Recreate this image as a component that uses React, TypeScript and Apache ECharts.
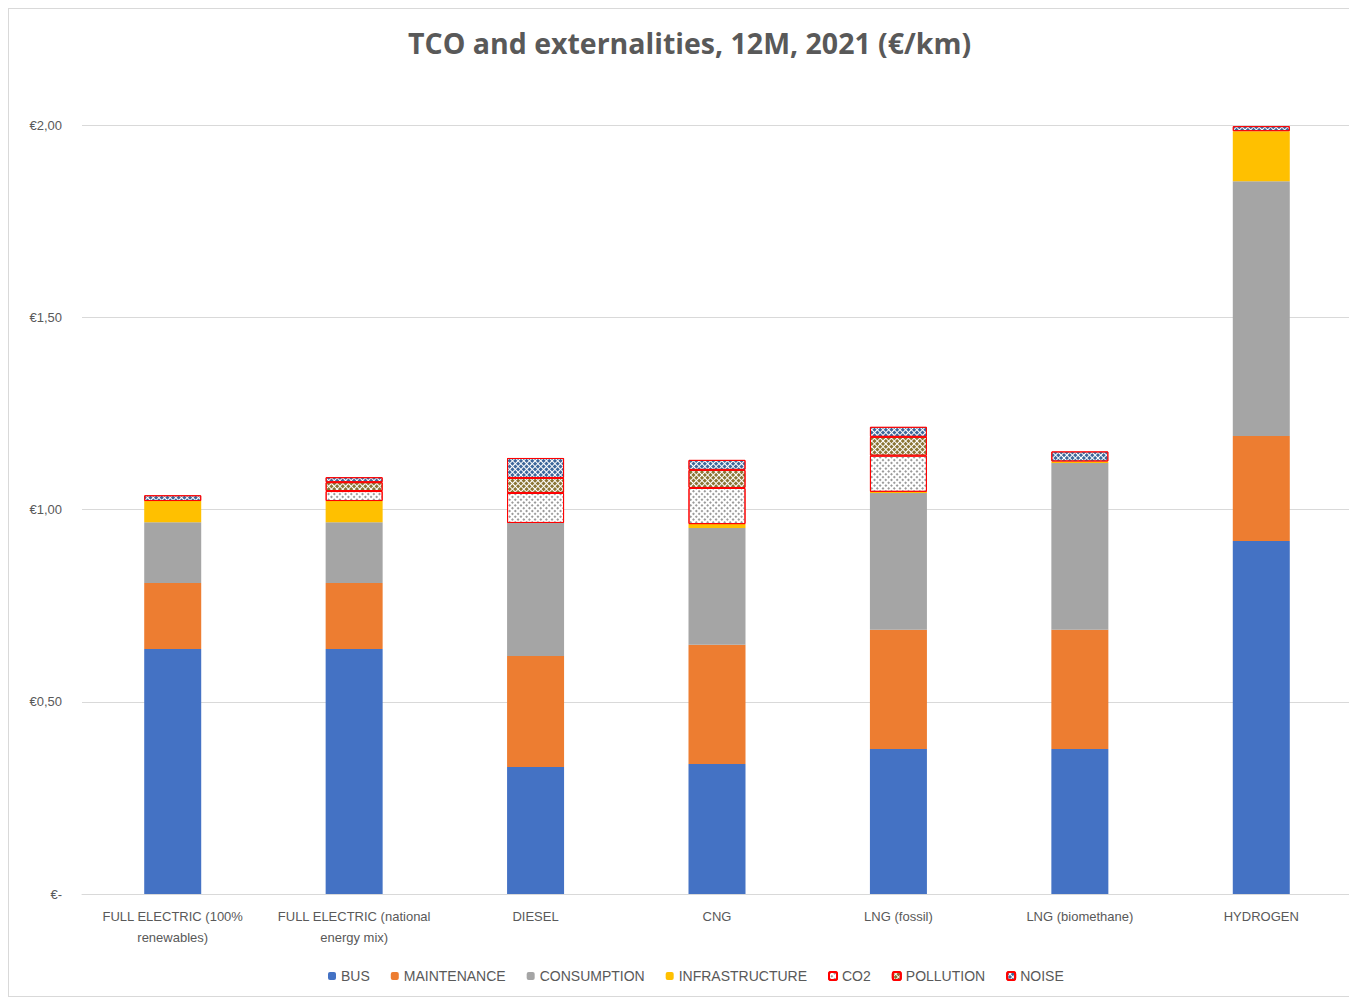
import React, { useEffect, useRef } from "react";
import * as echarts from "echarts";

const categories = [
  "FULL ELECTRIC (100%\nrenewables)",
  "FULL ELECTRIC (national\nenergy mix)",
  "DIESEL",
  "CNG",
  "LNG (fossil)",
  "LNG (biomethane)",
  "HYDROGEN",
];
const bus = [0.637, 0.637, 0.33, 0.338, 0.377, 0.377, 0.918];
const maintenance = [0.172, 0.172, 0.289, 0.31, 0.31, 0.31, 0.273];
const consumption = [0.158, 0.158, 0.346, 0.304, 0.356, 0.434, 0.663];
const infrastructure = [0.055, 0.055, 0, 0.01, 0.003, 0.004, 0.13];
const co2: (number | string)[] = ["-", 0.026, 0.078, 0.094, 0.094, "-", "-"];
const pollution: (number | string)[] = ["-", 0.023, 0.039, 0.047, 0.049, "-", "-"];
const noise = [0.015, 0.013, 0.052, 0.026, 0.026, 0.026, 0.013];
const yTicks = ["€-", "€0,50", "€1,00", "€1,50", "€2,00"];

const TXT = "#595959";
const FONT = "Liberation Sans";

export default function App() {
  const ref = useRef<HTMLDivElement>(null);
  useEffect(() => {
    if (!ref.current) return;
    const chart = echarts.init(ref.current, null, { renderer: "svg" });
    const plain = (name: string, data: any[], color: string) => ({
      name,
      type: "bar",
      stack: "t",
      barWidth: 57,
      data,
      itemStyle: { color },
    });
    const pat = (name: string, data: any[], color: string, size: number[]) => ({
      name,
      type: "bar",
      stack: "t",
      barWidth: 57,
      data,
      itemStyle: {
        color: "#ffffff",
        borderColor: "#ff0000",
        borderWidth: 1,
        decal: {
          symbol: "rect",
          symbolSize: 1,
          color,
          dashArrayX: size,
          dashArrayY: size,
          rotation: Math.PI / 4,
        },
      },
    });
    chart.setOption({
      animation: false,
      title: {
        text: "TCO and externalities, 12M, 2021 (€/km)",
        left: 394,
        top: 14,
        textStyle: { fontFamily: "Open Sans", fontSize: 28.5, fontWeight: 700, color: TXT },
      },
      legend: {
        top: 955,
        left: 314,
        itemWidth: 8,
        itemHeight: 8,
        itemGap: 21,
        textStyle: { fontFamily: FONT, fontSize: 14, color: TXT },
        data: ["BUS", "MAINTENANCE", "CONSUMPTION", "INFRASTRUCTURE", "CO2", "POLLUTION", "NOISE"],
      },
      grid: { left: 73, right: 4, top: 116, bottom: 102, containLabel: false },
      xAxis: {
        type: "category",
        data: categories,
        axisLine: { lineStyle: { color: "#d9d9d9" } },
        axisTick: { show: false },
        axisLabel: { fontFamily: FONT, fontSize: 13, color: TXT, margin: 12, lineHeight: 21, interval: 0 },
      },
      yAxis: {
        type: "value",
        min: 0,
        max: 2,
        interval: 0.5,
        axisLine: { show: false },
        axisTick: { show: false },
        splitLine: { lineStyle: { color: "#d9d9d9" } },
        axisLabel: {
          fontFamily: FONT,
          fontSize: 13,
          color: TXT,
          margin: 20,
          formatter: (v: number) => yTicks[Math.round(v / 0.5)],
        },
      },
      series: [
        plain("BUS", bus, "#4472c4"),
        plain("MAINTENANCE", maintenance, "#ed7d31"),
        plain("CONSUMPTION", consumption, "#a5a5a5"),
        plain("INFRASTRUCTURE", infrastructure, "#ffc000"),
        pat("CO2", co2, "#9a9a9a", [2, 2]),
        pat("POLLUTION", pollution, "#8a7535", [3, 1]),
        pat("NOISE", noise, "#3d679a", [3, 1]),
      ],
    });
    return () => chart.dispose();
  }, []);
  return (
    <div
      ref={ref}
      style={{ width: 1347, height: 987, border: "1px solid #d9d9d9", background: "#fff" }}
    />
  );
}
